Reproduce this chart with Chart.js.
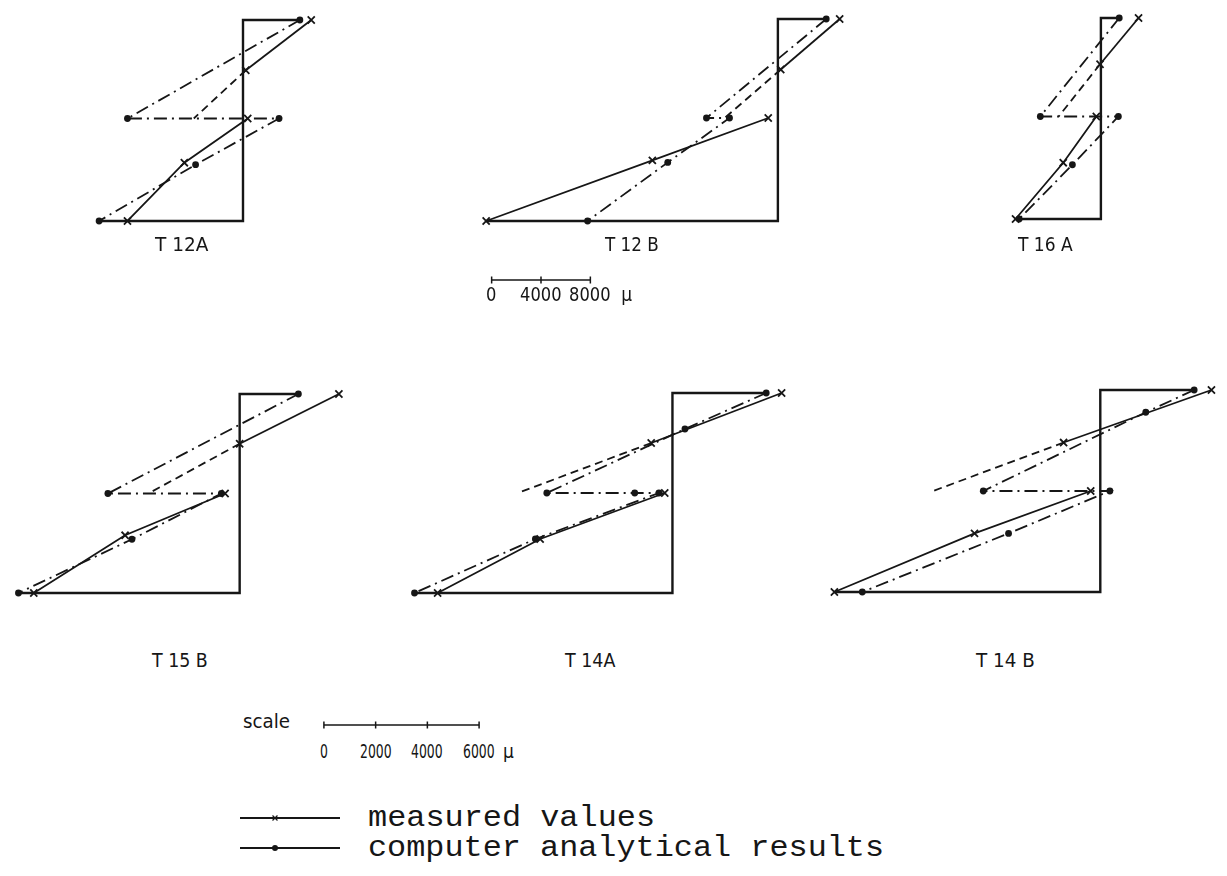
<!DOCTYPE html>
<html>
<head>
<meta charset="utf-8">
<title>Strain profiles</title>
<script src="https://cdn.jsdelivr.net/npm/chart.js@4.4.0/dist/chart.umd.min.js"></script>
<style>
    html, body { margin: 0; padding: 0; background: #fff; }
    #page { position: relative; width: 1227px; height: 876px; overflow: hidden; background: #fff; }
    .panel { position: absolute; }
    .lbl { position: absolute; white-space: nowrap; color: #161616; line-height: 1; transform-origin: 0 50%; }
    .tag { font-family: "DejaVu Sans Condensed", "Liberation Sans Narrow", "Liberation Sans", sans-serif; font-size: 19px; }
    .num { font-family: "DejaVu Sans Condensed", "Liberation Sans Narrow", "Liberation Sans", sans-serif; font-size: 19px; }
    .mono { font-family: "Liberation Mono", "DejaVu Sans Mono", monospace; font-size: 30px; }
</style>
</head>
<body>
<div id="page"></div>
<script>
// strain in microstrain (µ), depth as a fraction of the section (0 = top, 1 = bottom)
// measured: strain at the gauges, upper layer then lower layer
// computed: analytical profile, upper layer end -> jump at interface -> lower layer

// T 12A
const t12aMeasured = [5340, 220, 370, -4590, -9040];
const t12aMeasuredDepth = [0, 0.25, 0.49, 0.71, 1];
const t12aExtrapolated = -3850;
const t12aComputed = [4450, -9040, 2820, -3710, -11260];
const t12aComputedDepth = [0, 0.49, 0.49, 0.72, 1];

// T 12 B
const t12bMeasured = [4740, 220, -740, -9630, -22380];
const t12bMeasuredDepth = [0, 0.25, 0.49, 0.70, 1];
const t12bExtrapolated = -4080;
const t12bComputed = [3710, -5480, -3710, -8450, -14600];
const t12bComputedDepth = [0, 0.49, 0.49, 0.71, 1];

// T 16 A
const t16aMeasured = [3040, -70, -370, -3040, -6890];
const t16aMeasuredDepth = [0, 0.23, 0.49, 0.72, 1];
const t16aExtrapolated = -3410;
const t16aComputed = [1480, -4890, 1410, -2300, -6600];
const t16aComputedDepth = [0, 0.49, 0.49, 0.73, 1];

// T 15 B
const t15bMeasured = [3750, 0, -550, -4330, -7780];
const t15bMeasuredDepth = [0, 0.25, 0.5, 0.71, 1];
const t15bExtrapolated = -3450;
const t15bComputed = [2220, -4980, -690, -4070, -8360];
const t15bComputedDepth = [0, 0.5, 0.5, 0.73, 1];

// T 14A
const t14aMeasured = [4110, -800, -290, -4980, -8840];
const t14aMeasuredDepth = [0, 0.25, 0.5, 0.73, 1];
const t14aExtrapolated = -5820;
const t14aComputed = [3530, 470, -4730, -1420, -510, -5160, -9710];
const t14aComputedDepth = [0, 0.18, 0.5, 0.5, 0.5, 0.73, 1];

// T 14 B
const t14bMeasured = [4180, -1380, -360, -4730, -10000];
const t14bMeasuredDepth = [0, 0.26, 0.5, 0.71, 1];
const t14bExtrapolated = -6290;
const t14bComputed = [3530, 1710, -4400, 360, -3450, -8950];
const t14bComputedDepth = [0, 0.11, 0.5, 0.5, 0.71, 1];

// scale bars
const scaleTopTicks = [0, 4000, 8000];
const scaleBottomTicks = [0, 2000, 4000, 6000];

// legend
const legendLabels = ['measured values', 'computer analytical results'];

// ---- layout ----
const TOP_UPP = 8000 / 108;   // µ per pixel, upper row
const BOT_UPP = 6000 / 165;   // µ per pixel, lower row
const INK = '#161616';
const DASH_DOT = [13, 5, 2, 5];

const panels = [
    { name: 'T 12A', m: t12aMeasured, md: t12aMeasuredDepth, ext: t12aExtrapolated, c: t12aComputed, cd: t12aComputedDepth,
      x0: 245, top: 14, bottom: 227, upp: TOP_UPP, box: [80, 335], label: [155, 244, 53] },
    { name: 'T 12 B', m: t12bMeasured, md: t12bMeasuredDepth, ext: t12bExtrapolated, c: t12bComputed, cd: t12bComputedDepth,
      x0: 782, top: 13, bottom: 227, upp: TOP_UPP, box: [465, 860], label: [605, 244, 54] },
    { name: 'T 16 A', m: t16aMeasured, md: t16aMeasuredDepth, ext: t16aExtrapolated, c: t16aComputed, cd: t16aComputedDepth,
      x0: 1103, top: 12, bottom: 225, upp: TOP_UPP, box: [995, 1160], label: [1018, 244, 55] },
    { name: 'T 15 B', m: t15bMeasured, md: t15bMeasuredDepth, ext: t15bExtrapolated, c: t15bComputed, cd: t15bComputedDepth,
      x0: 242, top: 388, bottom: 599, upp: BOT_UPP, box: [0, 360], label: [152, 660, 56] },
    { name: 'T 14A', m: t14aMeasured, md: t14aMeasuredDepth, ext: t14aExtrapolated, c: t14aComputed, cd: t14aComputedDepth,
      x0: 675, top: 387, bottom: 599, upp: BOT_UPP, box: [400, 800], label: [565, 660, 50] },
    { name: 'T 14 B', m: t14bMeasured, md: t14bMeasuredDepth, ext: t14bExtrapolated, c: t14bComputed, cd: t14bComputedDepth,
      x0: 1103, top: 384, bottom: 598, upp: BOT_UPP, box: [815, 1227], label: [976, 660, 59] }
];

const page = document.getElementById('page');

function pts(xs, ys) {
    return xs.map((x, i) => ({ x: x, y: ys[i] }));
}

// text placed at left/centre-y and stretched to the width of the original lettering
function addText(txt, cls, left, cy, width) {
    const el = document.createElement('div');
    el.className = 'lbl ' + cls;
    el.textContent = txt;
    el.style.left = left + 'px';
    el.style.top = cy + 'px';
    page.appendChild(el);
    const k = width ? width / el.offsetWidth : 1;
    el.style.transform = 'translateY(-50%) scaleX(' + k + ')';
    return el;
}

function addCanvas(left, top, width, height) {
    const div = document.createElement('div');
    div.className = 'panel';
    div.style.left = left + 'px';
    div.style.top = top + 'px';
    const canvas = document.createElement('canvas');
    canvas.width = width;
    canvas.height = height;
    canvas.style.width = width + 'px';
    canvas.style.height = height + 'px';
    div.appendChild(canvas);
    page.appendChild(div);
    return canvas;
}

function baseOptions(xMin, xMax, yMin, yMax) {
    return {
        responsive: false,
        animation: false,
        devicePixelRatio: 1,
        layout: { padding: 0 },
        elements: { line: { tension: 0 } },
        plugins: { legend: { display: false }, tooltip: { enabled: false } },
        scales: {
            x: { type: 'linear', display: false, min: xMin, max: xMax },
            y: { type: 'linear', display: false, min: yMin, max: yMax, reverse: true }
        }
    };
}

const measuredStyle = {
    showLine: true, clip: false, borderColor: INK, borderWidth: 1.8,
    pointStyle: 'crossRot', pointRadius: 5, pointBorderWidth: 1.8,
    pointBorderColor: INK, pointBackgroundColor: INK
};
const computedStyle = {
    showLine: true, clip: false, borderColor: INK, borderWidth: 1.8, borderDash: DASH_DOT,
    pointStyle: 'circle', pointRadius: 3.4, pointBorderWidth: 0,
    pointBackgroundColor: INK
};

// ---- the six strain profiles ----
panels.forEach(p => {
    const pad = 14;
    const h = p.bottom - p.top;
    const width = p.box[1] - p.box[0];
    const canvas = addCanvas(p.box[0], p.top - pad, width, h + 2 * pad);

    const m = p.m, md = p.md, c = p.c, cd = p.cd;
    const low = Math.min(m[m.length - 1], c[c.length - 1]);
    // section outline: top edge to the computed top strain, depth axis, bottom edge to the lowest strain
    const frame = [{ x: c[0], y: 0 }, { x: 0, y: 0 }, { x: 0, y: 1 }, { x: low, y: 1 }];

    const opts = baseOptions((p.box[0] - p.x0) * p.upp, (p.box[1] - p.x0) * p.upp, -pad / h, 1 + pad / h);

    new Chart(canvas, {
        type: 'scatter',
        data: {
            datasets: [
                { data: frame, showLine: true, clip: false, borderColor: INK, borderWidth: 2.4, pointRadius: 0 },
                Object.assign({ data: pts(m.slice(0, 2), md.slice(0, 2)) }, measuredStyle),
                { data: [{ x: m[1], y: md[1] }, { x: p.ext, y: md[2] }], showLine: true, clip: false,
                  borderColor: INK, borderWidth: 1.8, borderDash: [8, 5], pointRadius: 0 },
                Object.assign({ data: pts(m.slice(2), md.slice(2)) }, measuredStyle),
                Object.assign({ data: pts(c, cd) }, computedStyle)
            ]
        },
        options: opts
    });

    addText(p.name, 'tag', p.label[0], p.label[1], p.label[2]);
});

// ---- scale bars ----
function scaleBar(ticks, upp, x0, y, labelY, digitW, unitGap) {
    const last = ticks[ticks.length - 1];
    const width = Math.round(last / upp) + 20;
    const canvas = addCanvas(x0 - 10, y - 10, width, 20);
    const opts = baseOptions(-10 * upp, (width - 10) * upp, -1, 1);
    const chart = new Chart(canvas, {
        type: 'scatter',
        data: {
            datasets: [{
                data: ticks.map(t => ({ x: t, y: 0 })),
                showLine: true, clip: false, borderColor: INK, borderWidth: 1.5,
                pointStyle: 'line', rotation: 90, pointRadius: 3.5, pointBorderWidth: 1.5, pointBorderColor: INK
            }]
        },
        options: opts
    });
    // numbers centred under their tick, unit after the last one
    ticks.forEach(t => {
        const txt = String(t);
        const w = txt.length * digitW;
        const px = x0 - 10 + chart.scales.x.getPixelForValue(t);
        addText(txt, 'num', px - w / 2, labelY, w);
        if (t === last) addText('\u00b5', 'num', px + w / 2 + unitGap, labelY, 0);
    });
}

scaleBar(scaleTopTicks, TOP_UPP, 487, 280, 294, 10.5, 10);
addText('scale', 'tag', 243, 721, 47);
scaleBar(scaleBottomTicks, BOT_UPP, 319, 725, 751, 8, 8);

// ---- legend ----
const legendCanvas = addCanvas(238, 803, 102, 60);
new Chart(legendCanvas, {
    type: 'scatter',
    data: {
        datasets: [
            Object.assign({}, measuredStyle, {
                data: [{ x: 0, y: 0 }, { x: 0.35, y: 0 }, { x: 1, y: 0 }],
                pointRadius: [0, 3.5, 0], pointBorderWidth: 1.2
            }),
            Object.assign({}, measuredStyle, {
                data: [{ x: 0, y: 1 }, { x: 0.35, y: 1 }, { x: 1, y: 1 }],
                pointStyle: 'circle', pointRadius: [0, 3, 0], pointBorderWidth: 0
            })
        ]
    },
    options: baseOptions(-0.02, 1.0, -0.5, 1.5)
});
addText(legendLabels[0], 'mono', 368, 818, 287);
addText(legendLabels[1], 'mono', 368, 848, 516);
</script>
</body>
</html>
